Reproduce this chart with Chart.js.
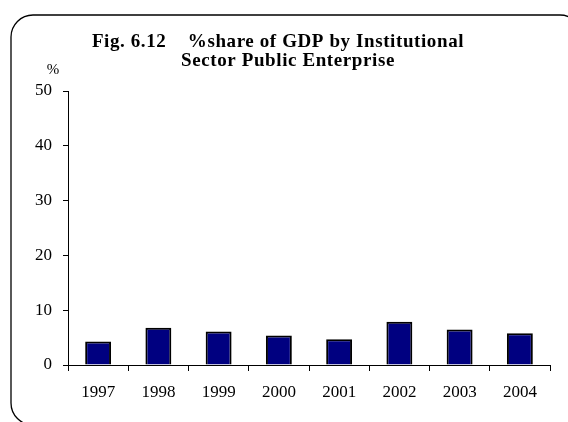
<!DOCTYPE html>
<html lang="en">
<head>
    <meta charset="utf-8" />
    <title>% share of GDP by Institutional Sector Public Enterprise</title>
    <script src="https://cdn.jsdelivr.net/npm/chart.js"></script>
    <style>
        html, body { margin: 0; padding: 0; background: #fff; }
        #wrap { width: 568px; height: 422px; position: relative; }
    </style>
</head>
<body>
<div id="wrap">
    <canvas id="gdpChart" width="568" height="422"></canvas>
</div>

<script>
    // data
    var years = ["1997", "1998", "1999", "2000", "2001", "2002", "2003", "2004"];
    var shareValues = [4.3, 6.8, 6.1, 5.4, 4.7, 7.9, 6.5, 5.8];
    var titleLines = ["Fig. 6.12    %share of GDP by Institutional", "Sector Public Enterprise"];
    var yMin = 0, yMax = 50, yStep = 10;

    var serif = "'Liberation Serif', 'Times New Roman', serif";

    // rounded frame, title and the "%" unit label
    var decorPlugin = {
        id: 'decor',
        beforeDraw: function (chart) {
            var ctx = chart.ctx;
            ctx.save();
            ctx.fillStyle = '#fff';
            ctx.fillRect(0, 0, chart.width, chart.height);
            ctx.strokeStyle = '#000';
            ctx.lineWidth = 1.3;
            ctx.beginPath();
            ctx.roundRect(11, 15, 571, 410, 22);
            ctx.stroke();
            ctx.restore();
        },
        afterDraw: function (chart) {
            var ctx = chart.ctx;
            ctx.save();
            ctx.fillStyle = '#000';
            ctx.textAlign = 'center';
            ctx.textBaseline = 'alphabetic';
            ctx.font = 'bold 19px ' + serif;
            ctx.letterSpacing = '0.6px';
            ctx.fillText(titleLines[0], 278, 47);
            ctx.fillText(titleLines[1], 288, 66);
            ctx.letterSpacing = '0px';
            ctx.font = '15px ' + serif;
            ctx.fillText('%', 53, 74);
            ctx.restore();
        }
    };

    var ctx = document.getElementById('gdpChart').getContext('2d');
    var gdpChart = new Chart(ctx, {
        type: 'bar',
        data: {
            labels: years,
            datasets: [{
                label: '% share of GDP',
                data: shareValues,
                backgroundColor: '#000080',
                borderColor: '#000',
                borderWidth: 2,
                categoryPercentage: 1.0,
                barPercentage: 0.43
            }]
        },
        options: {
            responsive: false,
            animation: false,
            layout: {
                padding: { left: 15, right: 18, top: 91, bottom: 0 }
            },
            plugins: {
                legend: { display: false },
                title: { display: false },
                tooltip: { enabled: false }
            },
            scales: {
                x: {
                    afterFit: function (scale) { scale.height = 57; },
                    grid: {
                        display: true,
                        offset: true,
                        drawOnChartArea: false,
                        drawTicks: true,
                        tickLength: 6,
                        color: '#000'
                    },
                    border: { display: true, color: '#000', width: 1 },
                    ticks: {
                        color: '#000',
                        padding: 11,
                        font: { family: serif, size: 17 }
                    }
                },
                y: {
                    min: yMin,
                    max: yMax,
                    afterFit: function (scale) { scale.width = 53; },
                    grid: {
                        display: true,
                        drawOnChartArea: false,
                        drawTicks: true,
                        tickLength: 5,
                        color: '#000'
                    },
                    border: { display: true, color: '#000', width: 1 },
                    ticks: {
                        stepSize: yStep,
                        color: '#000',
                        padding: 11,
                        font: { family: serif, size: 17 }
                    }
                }
            }
        },
        plugins: [decorPlugin]
    });
</script>
</body>
</html>
